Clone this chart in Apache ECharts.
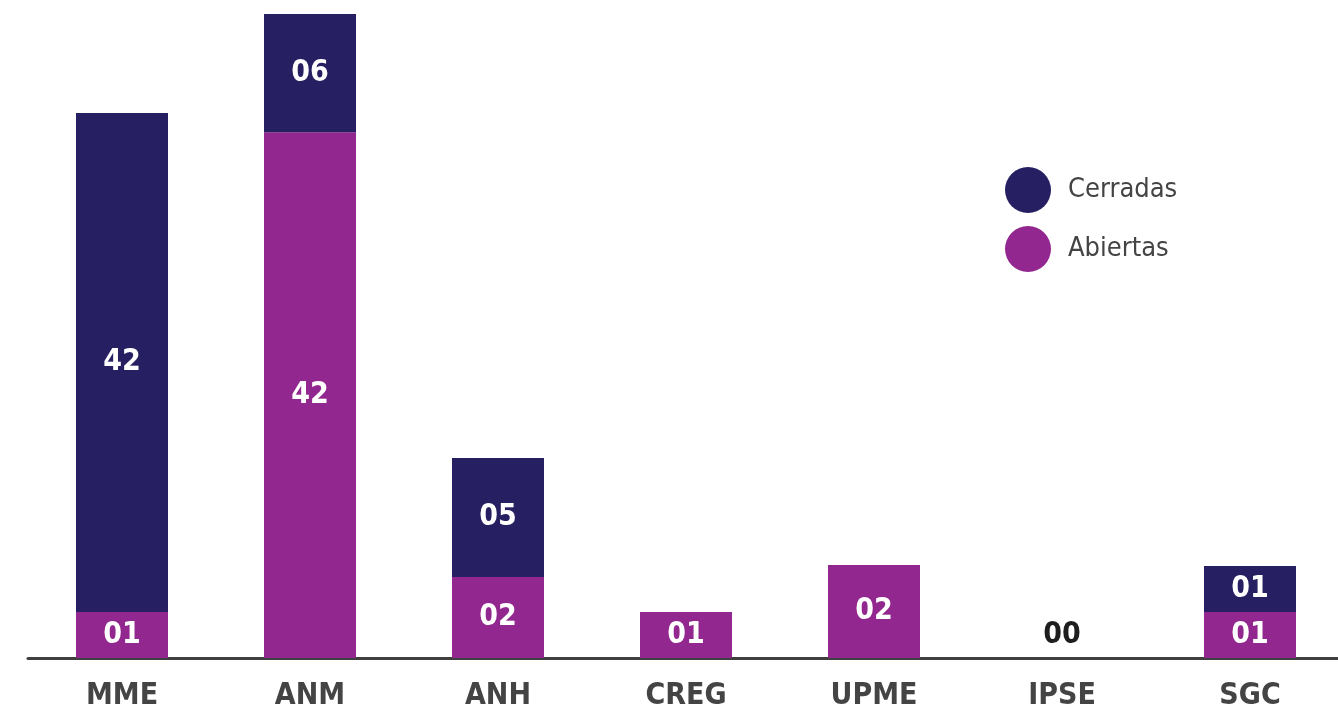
<!DOCTYPE html>
<html>
<head>
<meta charset="utf-8">
<script src="https://cdn.jsdelivr.net/npm/echarts@6/dist/echarts.min.js"></script>
<style>
  html, body { margin: 0; padding: 0; background: #fff; }
  #chart { width: 1338px; height: 713px; }
</style>
</head>
<body>
<div id="chart"></div>
<script>
// 类别与数据（柱高按图中读出的比例，标签为显示数字）
const categories = ['MME', 'ANM', 'ANH', 'CREG', 'UPME', 'IPSE', 'SGC'];
const abiertasHeight = [1, 11.43, 1.76, 1, 2.02, 0, 1];
const cerradasHeight = [10.85, 2.57, 2.59, 0, 0, 0, 1];
const abiertasLabel = ['01', '42', '02', '01', '02', '00', '01'];
const cerradasLabel = ['42', '06', '05', '', '', '', '01'];

const colors = {
    cerradas: '#261F61',
    abiertas: '#92278F',
    axis: '#404040',
    text: '#444444'
};
const narrow = '"Liberation Sans Narrow", "DejaVu Sans Condensed", sans-serif';

var chart = echarts.init(document.getElementById('chart'));

const labelStyle = {
    show: true,
    position: 'inside',
    color: '#ffffff',
    fontFamily: narrow,
    fontWeight: 'bold',
    fontSize: 30
};

const option = {
    animation: false,
    grid: { left: 28, width: 1316, top: 14, bottom: 55, outerBoundsMode: 'none' },
    legend: {
        orient: 'vertical',
        left: 1000,
        top: 162,
        itemWidth: 46,
        itemHeight: 46,
        itemGap: 13,
        icon: 'circle',
        textStyle: { color: colors.text, fontFamily: narrow, fontSize: 27, padding: [0, 0, 0, 12] },
        data: ['Cerradas', 'Abiertas']
    },
    xAxis: {
        type: 'category',
        data: categories,
        axisLine: { lineStyle: { color: colors.axis, width: 3 } },
        axisTick: { show: false },
        axisLabel: {
            color: colors.text,
            fontFamily: narrow,
            fontWeight: 'bold',
            fontSize: 30,
            margin: 23
        }
    },
    yAxis: {
        type: 'value',
        min: 0,
        max: 14,
        show: false
    },
    series: [
        {
            name: 'Abiertas',
            type: 'bar',
            stack: 'total',
            barWidth: 92,
            itemStyle: { color: colors.abiertas },
            label: Object.assign({}, labelStyle, {
                formatter: p => abiertasLabel[p.dataIndex]
            }),
            data: abiertasHeight.map((v, i) => v === 0
                ? { value: v, label: { position: 'top', distance: 8, color: '#1e1e1e' } }
                : v)
        },
        {
            name: 'Cerradas',
            type: 'bar',
            stack: 'total',
            barWidth: 92,
            itemStyle: { color: colors.cerradas },
            label: Object.assign({}, labelStyle, {
                formatter: p => cerradasLabel[p.dataIndex]
            }),
            data: cerradasHeight
        }
    ]
};

chart.setOption(option);
</script>
</body>
</html>
